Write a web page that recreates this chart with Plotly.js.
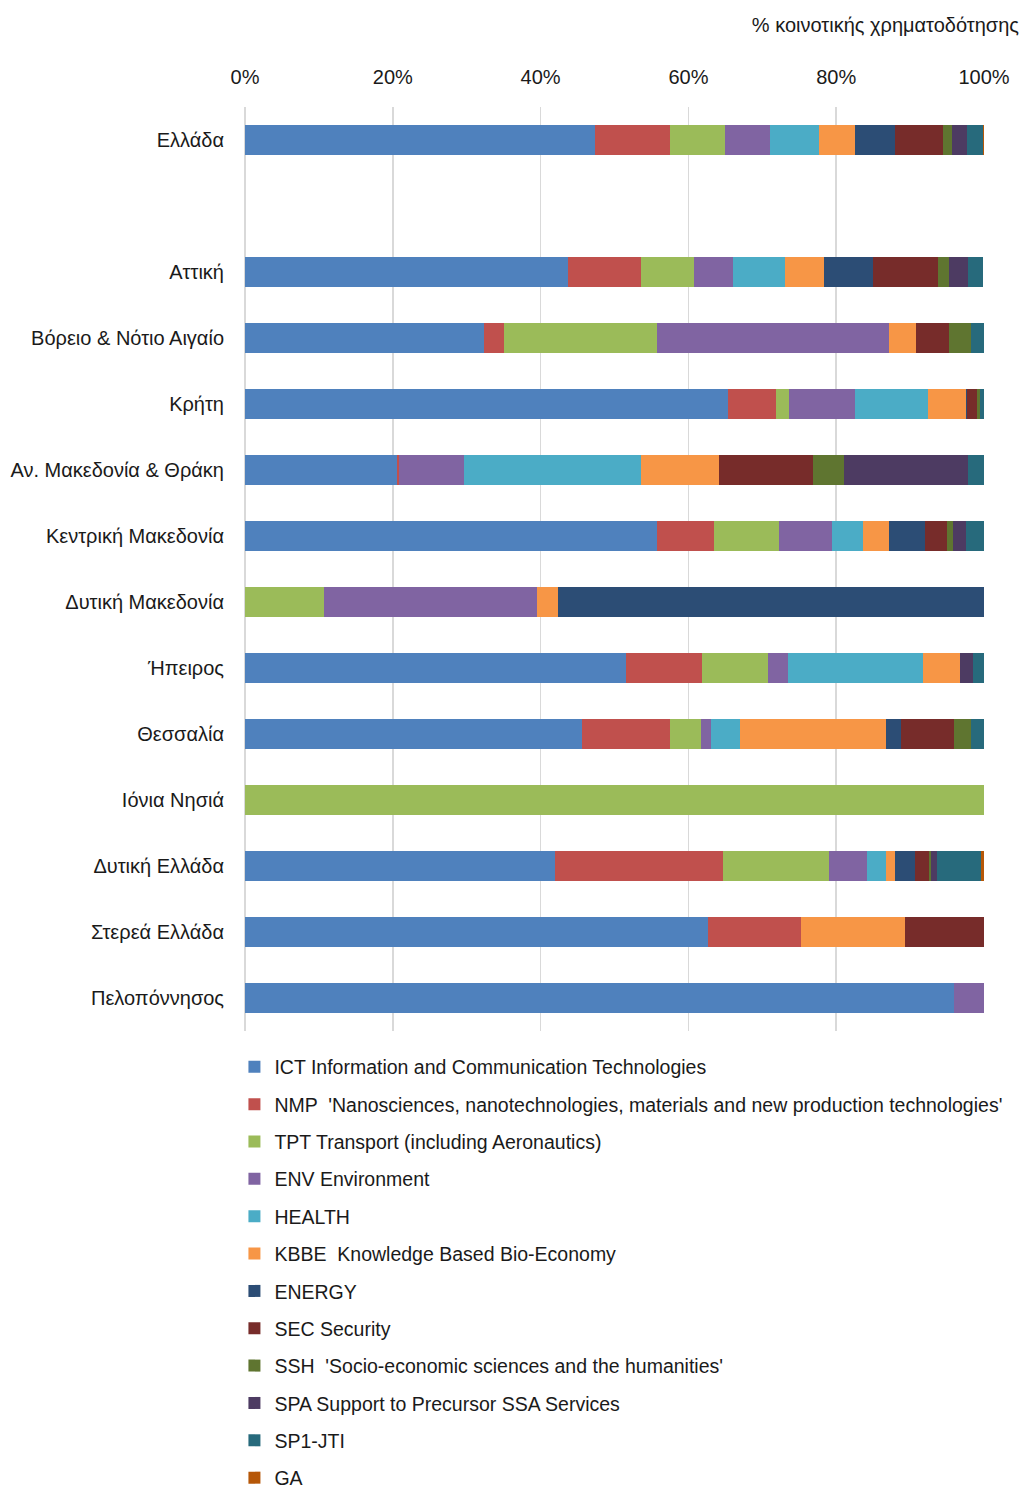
<!DOCTYPE html>
<html>
<head>
<meta charset="utf-8">
<script src="https://cdn.plot.ly/plotly-3.0.1.min.js"></script>
<style>html,body{margin:0;padding:0;background:#fff;}#chart{width:1021px;height:1488px;}</style>
</head>
<body>
<div id="chart"></div>
<script>
// Regions (top to bottom); " " is the empty slot under the national total
const regions = ["Ελλάδα", " ", "Αττική", "Βόρειο & Νότιο Αιγαίο", "Κρήτη", "Αν. Μακεδονία & Θράκη",
  "Κεντρική Μακεδονία", "Δυτική Μακεδονία", "Ήπειρος", "Θεσσαλία", "Ιόνια Νησιά",
  "Δυτική Ελλάδα", "Στερεά Ελλάδα", "Πελοπόννησος"];
const dataRegions = regions.filter(r => r !== " ");

// Share of community funding (%) per thematic area, in order of dataRegions
const ICT    = [47.3, 43.7, 32.3, 65.3, 20.5, 55.7, 0,    51.6, 45.6, 0,   42.0, 62.7, 95.9];
const NMP    = [10.2,  9.9,  2.8,  6.5,  0.3,  7.7, 0,    10.3, 11.9, 0,   22.7, 12.6, 0];
const TPT    = [ 7.5,  7.2, 20.6,  1.8,  0,    8.8, 10.7,  8.9,  4.2, 100, 14.3, 0,    0];
const ENV    = [ 6.1,  5.3, 31.4,  8.9,  8.8,  7.2, 28.8,  2.7,  1.4, 0,    5.2, 0,    4.1];
const HEALTH = [ 6.6,  7.0,  0,    9.9, 24.0,  4.2, 0,    18.3,  3.9, 0,    2.5, 0,    0];
const KBBE   = [ 4.8,  5.2,  3.7,  5.1, 10.5,  3.5, 2.8,   5.0, 19.8, 0,    1.3, 14.0, 0];
const ENERGY = [ 5.5,  6.7,  0,    0.2,  0,    4.9, 57.7,  0,    2.0, 0,    2.7, 0,    0];
const SEC    = [ 6.4,  8.8,  4.5,  1.3, 12.8,  3.0, 0,     0,    7.1, 0,    1.9, 10.7, 0];
const SSH    = [ 1.3,  1.5,  3.0,  0.4,  4.2,  0.8, 0,     0,    2.4, 0,    0.2, 0,    0];
const SPA    = [ 2.0,  2.6,  0,    0.1, 16.7,  1.7, 0,     1.7,  0,   0,    0.8, 0,    0];
const SP1    = [ 2.2,  1.9,  1.7,  0.5,  2.2,  2.5, 0,     1.5,  1.7, 0,    6.0, 0,    0];
const GA     = [ 0.1,  0.1,  0,    0,    0,    0,   0,     0,    0,   0,    0.4, 0,    0];

const seriesNames = [
  "ICT Information and Communication Technologies",
  "NMP  'Nanosciences, nanotechnologies, materials and new production technologies'",
  "TPT Transport (including Aeronautics)",
  "ENV Environment",
  "HEALTH",
  "KBBE  Knowledge Based Bio-Economy",
  "ENERGY",
  "SEC Security",
  "SSH  'Socio-economic sciences and the humanities'",
  "SPA Support to Precursor SSA Services",
  "SP1-JTI",
  "GA"
];
const seriesValues = [ICT, NMP, TPT, ENV, HEALTH, KBBE, ENERGY, SEC, SSH, SPA, SP1, GA];
const colors = ["#4F81BD", "#C0504D", "#9BBB59", "#8064A2", "#4BACC6", "#F79646",
  "#2C4D75", "#772C2A", "#5F7530", "#4D3B62", "#276A7C", "#B65708"];

const tickVals = [0, 20, 40, 60, 80, 100];
const tickText = ["0%", "20%", "40%", "60%", "80%", "100%"];
const xTitle = "% κοινοτικής χρηματοδότησης";

const FONT = "'Liberation Sans Narrow', 'Arial Narrow', 'Liberation Sans', Arial, sans-serif";

const traces = seriesNames.map((name, i) => ({
  type: "bar",
  orientation: "h",
  name: name,
  legendgroup: "g" + i,
  x: seriesValues[i],
  y: dataRegions,
  marker: {color: colors[i], line: {width: 0}},
  hoverinfo: "x+y+name"
}));

const layout = {
  width: 1021,
  height: 1488,
  barmode: "stack",
  bargap: 0.545,
  paper_bgcolor: "#ffffff",
  plot_bgcolor: "#ffffff",
  margin: {l: 245, r: 37, t: 107, b: 457, pad: 0, autoexpand: false},
  font: {family: FONT, size: 20, color: "#1a1a1a"},
  title: {
    text: xTitle,
    font: {family: FONT, size: 20, color: "#1a1a1a"},
    x: 0.998, xanchor: "right", xref: "container",
    y: 0.983, yanchor: "middle", yref: "container"
  },
  xaxis: {
    side: "top",
    range: [0, 100],
    tickvals: tickVals,
    ticktext: tickText,
    showgrid: true,
    gridcolor: "#d9d9d9",
    gridwidth: 1.5,
    zeroline: true,
    zerolinecolor: "#d9d9d9",
    zerolinewidth: 1.5,
    showline: false,
    ticks: "",
    ticklabelstandoff: 18,
    tickangle: 0,
    tickfont: {family: FONT, size: 20, color: "#1a1a1a"},
    fixedrange: true
  },
  yaxis: {
    type: "category",
    categoryorder: "array",
    categoryarray: regions,
    range: [regions.length - 0.5, -0.5],
    showgrid: false,
    zeroline: false,
    showline: false,
    ticks: "",
    ticklabelstandoff: 20,
    tickfont: {family: FONT, size: 20, color: "#1a1a1a"},
    fixedrange: true
  },
  showlegend: true,
  legend: {
    orientation: "v",
    traceorder: "grouped",
    x: -0.0143, xanchor: "left",
    y: -0.018, yanchor: "top",
    tracegroupgap: 9,
    itemwidth: 30,
    font: {family: FONT, size: 19.5, color: "#1a1a1a"},
    bgcolor: "rgba(0,0,0,0)"
  }
};

Plotly.newPlot("chart", traces, layout, {displayModeBar: false, staticPlot: true});
</script>
</body>
</html>
